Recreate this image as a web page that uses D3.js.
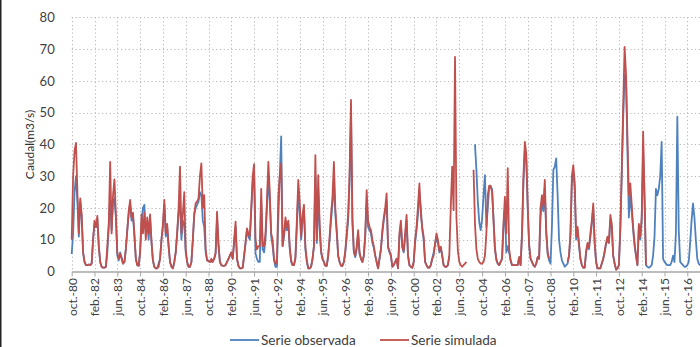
<!DOCTYPE html>
<html><head><meta charset="utf-8">
<script src="https://cdn.jsdelivr.net/npm/d3@7"></script>
<style>
html,body{margin:0;padding:0;background:#fff;}
svg{display:block;font-family:Lato,"Open Sans",sans-serif;}
</style></head>
<body>
<svg id="c" width="700" height="347"></svg>
<script>
// Monthly series, starting October 1980 (one row per hydrological year Oct–Sep)
const seriesNames = ["Serie observada", "Serie simulada"];
const tickLabels = ["oct.-80","feb.-82","jun.-83","oct.-84","feb.-86","jun.-87","oct.-88","feb.-90","jun.-91","oct.-92","feb.-94","jun.-95","oct.-96","feb.-98","jun.-99","oct.-00","feb.-02","jun.-03","oct.-04","feb.-06","jun.-07","oct.-08","feb.-10","jun.-11","oct.-12","feb.-14","jun.-15","oct.-16"];
const yTicks = [0,10,20,30,40,50,60,70,80];
const N = null;
const observada = [
5.5,12,25,30,22,11,22,17,6,3,2,2,
2.2,2,2.5,10,15,14,16.5,8,3,1.5,1.2,1.2,
1.5,6,14,23,13,22,23,17,5,3.5,6,4.5,
2.5,3,7,13,18,21.5,16,17.5,11,4,2,1.8,
6,15,20,21,12,15,10,17,9,3.5,1.5,1,
1,2.5,4,10,14,21,11,14,8,3,1.5,1,
3,6,12,18,22,10,16,15,6,3,1.5,1.5,
3,10,18,20,21,22,25,24,16,14,6,3.5,
3.5,3,3,3.5,4,5.5,17,8,3,2,1.8,1.8,
2,3,4,5,6,4,9,14,4,1.8,1,1,
1.2,5,9,13,11,10,19,28,30,5.7,4,3,
3,22,7,6,10,20,30,22,11,8,3.5,1.5,
1.5,16.5,30,42.5,8,11,15,13,15,7,3,2,
2,4,14,25,19,10,16,19,7,3,1,1,
1.5,4,8,30,9,25,13,6,4,3,1.8,1.8,
5,10,16,21,28,18,12,5,3,1.8,1.8,3,
6,11,16,28,50,15,6,4.5,7,12,5.5,4,
3,5,11,22,14,13,12,9,7.5,5,3,1,
4,7,12,16,19,22,7.5,6,5,1.5,2,3,
4,1,11,15,7.5,6,11,16,5,2,1.5,1.2,
3,9,13,18,25,20,13,10,3,2,1.2,1.2,
2,4,6,8.5,11,9,6,7.5,5,2,1.5,1.5,
2,5,N,N,N,N,N,N,N,N,N,N,
N,N,N,N,N,N,N,40,32,22,15.5,13,
16.5,24,30.3,14,20,26.7,26.5,26,17,7.5,3.5,2.5,
2,3,4,14,20,6,8,6,3.5,2,2,2,
2,2,4.5,2,11,28,38,35,20,8,4,3,
2,1.5,2.5,4.5,4,17,22,19,26,12,5.5,3.5,
2.5,14,32,33,35.6,24,10,6,3.5,2.5,1.5,2,
2.5,5,11,28,31,26,10,13,8,4,2,1.2,
1.2,6,8.5,7,11,15,20,9,3,1,1,1,
2.5,4,6,8.5,10,9,16,14,5,2.5,0.8,1,
2,13,30,48,62,60,38,17,24,19,13,8,
5,2,14,10,16,38,22,2,1.5,1.2,1.5,2,
5,11,26,24,26,30,40.8,4,3,2.5,2,2,
2,3,5,3,12,48.7,13,3,2.5,2,1.5,1.5,
2,3,9,16,21.4,17,10,4,2.5,2,2
];
const simulada = [
10,30,38,40.5,25,12,23,18,6,3,2,2,
2.2,2,2.5,10,16,14,17.5,8,3,1.5,1.2,1.2,
1.5,8,15,34.5,12,24,29,18,6,4,5.5,4,
2.5,3,7,13,19,22.5,17,18.5,12,4,2,1.8,
6,18,12,18.5,10,17,12,18,9.5,3.5,1.5,1,
1,1.5,4,10,15,22.5,12,15,8,3,1.5,1,
3,6,12,20,33,12,18,25,7,3,1.5,1.5,
3,10,18,21.5,22,23,30,34,20,24,7,3.5,
3.2,3,4,3,4,6,18.8,9,3,2,1.8,1.8,
2,3,4,5,6,4,10,15.7,4,1.8,1,1,
1.2,5,9,13.6,12,11,20,30,33.8,10,7,8,
8,26,8,8,12,22,34.5,25,12,10,4,2.5,
2.5,23.5,30,34,8,12,17,14,16,8,3.5,2,
2,4.5,16,28.8,22,11,18,21,7.7,3.5,1,1,
1.5,4,8,36.6,10,30.3,15,6.5,4,3,1.8,1.8,
5,11,18,23.5,34.5,20,13,5,3,1.8,1.8,3,
6.5,12,18,31,54,17,6.5,5,8,13,6,4,
3,5,12,25.6,16,14,13,10,8,5,3,1,
4,7,13,17,20,24.6,7.8,6.5,5,1.5,2,3,
4,1,12,16,7.8,6.5,12,17.8,5,2,1.5,1.2,
3,10,14,20.4,27.7,17.8,14,10.9,3,2,1.2,1.2,
2,4,5,8.9,12,10,6.5,7.8,5,2,1.5,1.5,
2,5,20,33,19.3,67.5,17,6.5,3,2,1.5,2,
2.5,3,N,N,N,N,32,15,7,4,3,2.5,
2.5,3,5,12,24,27,27,25,16,7,4,2.5,
2,3,4,15,23.5,12,32.5,7,3.5,2,2,2,
2,2,4.5,2,12,30,40.8,37,21,8.5,4,3,
2,1.5,2.5,4.5,4,20,24,20.5,28.8,13,6,4,
N,N,N,N,N,N,N,N,N,N,N,N,
3,5,12,30,33.5,28,11,14,9,4,2,1.2,
1.2,6.5,9,7.5,12,16,21.4,9,3,1,1,1,
2.5,4,6.5,9,11,9,17.8,15,5,2.5,0.5,1,
2,14,32,52,70.7,62,42,24,27.7,21,14,9,
5,2,15,11,17,44,24,2,N,N,N,N,
N,N,N,N,N,N,N,N,N,N,N,N,
N,N,N,N,N,N,N,N,N,N,N,N,
N,N,N,N,N,N,N,N,N,N,N
];
const colors = {obs:"#4f81bd", sim:"#c0504d"};

const svg = d3.select("#c");
const x0 = 71.7, monthPx = 1.425;
const x = d3.scaleLinear().domain([0, 443]).range([x0, x0 + monthPx*443]);
const y = d3.scaleLinear().domain([0, 80]).range([271.5, 17.3]);
const tickMonths = tickLabels.map((d,i)=>i*16);

// border at left
svg.append("line").attr("x1",0.75).attr("x2",0.75).attr("y1",0).attr("y2",347).attr("stroke","#222").attr("stroke-width",1.5);

// grid
const grid = svg.append("g").attr("stroke","#b8b8b8").attr("stroke-width",1).attr("stroke-dasharray","1.2,2.6");
grid.selectAll(".hg").data(yTicks.filter(d=>d>0)).join("line")
  .attr("x1",x0).attr("x2",706).attr("y1",d=>Math.round(y(d))+0.5).attr("y2",d=>Math.round(y(d))+0.5);
grid.selectAll(".vg").data(tickMonths).join("line")
  .attr("x1",d=>Math.round(x(d))+0.5).attr("x2",d=>Math.round(x(d))+0.5).attr("y1",y(80)).attr("y2",y(0));

// y axis
const ya = svg.append("g").attr("transform",`translate(${x0},0)`)
  .call(d3.axisLeft(y).tickValues(yTicks).tickSize(0).tickPadding(17));
ya.select(".domain").remove();
ya.selectAll("text").attr("font-size",13).attr("fill","#404040").attr("font-family","Lato, sans-serif");

// x axis
const xa = svg.append("g").attr("transform",`translate(0,${y(0)})`)
  .call(d3.axisBottom(x).tickValues(tickMonths).tickFormat((d,i)=>tickLabels[i]).tickSize(5).tickSizeOuter(0));
xa.select(".domain").attr("stroke","#a6a6a6").attr("stroke-width",1.3);
xa.selectAll(".tick line").attr("stroke","#a6a6a6");
xa.selectAll("text").attr("transform","rotate(-90)").attr("text-anchor","end")
  .attr("x",-6.5).attr("y",0).attr("dy","0.36em")
  .attr("font-size",12).attr("fill","#404040").attr("font-family","Lato, sans-serif");

// y title
svg.append("text").attr("transform","translate(34,144.5) rotate(-90)").attr("text-anchor","middle")
  .attr("font-size",12).attr("fill","#303030").text("Caudal(m3/s)");

// lines
const clip = svg.append("clipPath").attr("id","pc").append("rect").attr("x",x0-2).attr("y",0).attr("width",700).attr("height",275);
const line = d3.line().defined(d=>d!=null).x((d,i)=>x(i)).y(d=>y(d)).curve(d3.curveLinear);
const lg = svg.append("g").attr("clip-path","url(#pc)").attr("fill","none").attr("stroke-width",1.8).attr("stroke-linejoin","round");
lg.append("path").attr("d",line(observada)).attr("stroke",colors.obs);
lg.append("path").attr("d",line(simulada)).attr("stroke",colors.sim);

// legend
const leg = [{name:seriesNames[0],c:colors.obs,x:230},{name:seriesNames[1],c:colors.sim,x:380}];
const lgg = svg.selectAll(".leg").data(leg).join("g").attr("transform",d=>`translate(${d.x},340)`);
lgg.append("line").attr("x1",0).attr("x2",29).attr("y1",0).attr("y2",0).attr("stroke",d=>d.c).attr("stroke-width",1.8);
lgg.append("text").attr("x",31).attr("y",4.8).attr("font-size",13.6).attr("fill","#404040").text(d=>d.name);
</script>
</body></html>
